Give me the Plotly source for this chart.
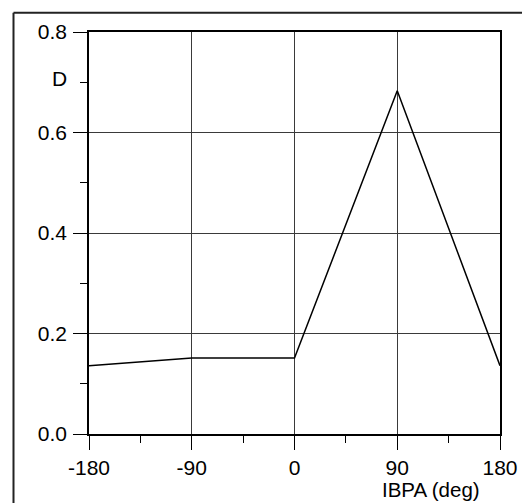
import plotly.graph_objects as go

ibpa = [-180, -90, 0, 90, 180]
d_values = [0.136, 0.151, 0.151, 0.683, 0.136]
x_ticks = [-180, -90, 0, 90, 180]
x_tick_labels = ["-180", "-90", "0", "90", "180"]
y_ticks = [0.0, 0.2, 0.4, 0.6, 0.8]
y_tick_labels = ["0.0", "0.2", "0.4", "0.6", "0.8"]

OFF = 8  # page body margin
W, H = 530 - OFF, 503 - OFF
L, R, T, B = 89 - OFF, 30, 27 - OFF, 69
pw, ph = W - L - R, H - T - B

def px_x(px):
    # px in page coordinates
    return (px - OFF - L) / pw

def px_y(py):
    return (H - B - (py - OFF)) / ph

fig = go.Figure()
fig.add_trace(go.Scatter(x=ibpa, y=d_values, mode="lines",
                         line=dict(color="black", width=1.5), showlegend=False))

family = "Liberation Sans, Arial, Helvetica, sans-serif"
font = dict(family=family, size=21, color="black")
afont = dict(family=family, size=20.5, color="black")

fig.update_layout(
    width=W, height=H,
    margin=dict(l=L, r=R, t=T, b=B),
    paper_bgcolor="white", plot_bgcolor="white",
    font=font,
    xaxis=dict(range=[-180, 180], tickvals=x_ticks, ticktext=x_tick_labels,
               showgrid=True, gridcolor="#3a3a3a", gridwidth=1,
               showline=True, linecolor="black", linewidth=1.5, mirror=True,
               ticks="outside", ticklen=14, tickcolor="black", tickwidth=1,
               minor=dict(dtick=45, tick0=-180, ticks="outside", ticklen=7,
                          tickcolor="black", showgrid=False),
               zeroline=False, fixedrange=True),
    yaxis=dict(range=[0, 0.8], tickvals=y_ticks, ticktext=y_tick_labels,
               showgrid=True, gridcolor="#3a3a3a", gridwidth=1,
               showline=True, linecolor="black", linewidth=1.5, mirror=True,
               ticks="outside", ticklen=14, tickcolor="black", tickwidth=1,
               ticklabelstandoff=2,
               minor=dict(dtick=0.1, tick0=0, ticks="outside", ticklen=7,
                          tickcolor="black", showgrid=False),
               zeroline=False, fixedrange=True),
)

fig.add_annotation(text="D", xref="paper", yref="y", x=px_x(69), y=0.7,
                   xanchor="right", yanchor="middle", yshift=4, showarrow=False, font=font)
fig.add_annotation(text="IBPA (deg)", xref="paper", yref="paper", x=px_x(431), y=px_y(490),
                   xanchor="center", yanchor="middle", showarrow=False, font=afont)

# outer frame
fx, fy = px_x(13.5), px_y(7.5)
fig.add_shape(type="line", xref="paper", yref="paper", x0=fx, y0=fy, x1=px_x(560), y1=fy,
              line=dict(color="#222", width=2))
fig.add_shape(type="line", xref="paper", yref="paper", x0=fx, y0=fy, x1=fx, y1=px_y(560),
              line=dict(color="#222", width=2))

fig.write_html("out.html")
